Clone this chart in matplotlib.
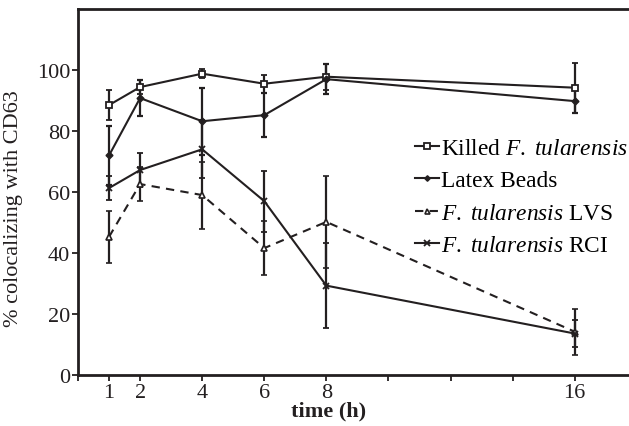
import matplotlib
matplotlib.use("Agg")
import matplotlib.pyplot as plt

plt.rcParams['font.family'] = ['Liberation Serif', 'DejaVu Serif']
plt.rcParams['mathtext.fontset'] = 'custom'
plt.rcParams['mathtext.rm'] = 'Liberation Serif'
plt.rcParams['mathtext.it'] = 'Liberation Serif:italic'

time = [1, 2, 4, 6, 8, 16]
killed = [88.5, 94.4, 98.8, 95.5, 97.8, 94.2]
killed_err = [5.0, 2.3, 1.5, 3.0, 4.2, 8.2]
latex = [72.0, 90.8, 83.2, 85.2, 97.0, 89.8]
latex_err = [9.6, 6.0, 11.0, 7.3, 5.0, 3.8]
lvs = [45.3, 62.6, 59.0, 41.6, 50.2, 14.2]
lvs_err = [8.6, 5.5, 11.0, 8.8, 15.0, 7.5]
rci = [61.3, 67.2, 74.0, 57.0, 29.3, 13.6]
rci_err = [3.8, 5.5, 9.5, 10.0, 14.0, 4.5]

labels = ['Killed $\\mathit{F.\\ tularensis}$', 'Latex Beads',
          '$\\mathit{F.\\ tularensis}$ LVS', '$\\mathit{F.\\ tularensis}$ RCI']
xticks = [0, 1, 2, 4, 6, 8, 10, 12, 14, 16]
xticklabels = ['', '1', '2', '4', '6', '8', '', '', '', '16']
yticks = [0, 20, 40, 60, 80, 100]

col = '#231f20'
fig = plt.figure(figsize=(6.29, 4.27), dpi=100)
ax = fig.add_axes([78/629, 51/427, 1 - 78/629, 366/427])

common = dict(color=col, ecolor=col, elinewidth=1.6, capsize=2.5, capthick=1.6, lw=1.5)
c1 = ax.errorbar(time, killed, yerr=killed_err, marker='s', ms=5, mfc='white', mec=col, mew=1.3,
                 **common)
c2 = ax.errorbar(time, latex, yerr=latex_err, marker='D', ms=3.5, mfc=col, mec=col,
                 **common)
c3 = ax.errorbar(time, lvs, yerr=lvs_err, marker='^', ms=4.5, mfc='white', mec=col, mew=1.2,
                 ls=(0, (4, 3)), **common)
c4 = ax.errorbar(time, rci, yerr=rci_err, marker='x', ms=5, mec=col, mew=1.3,
                 **common)

ax.set_xlim(0, 17.75)
ax.set_ylim(0, 120)
ax.set_xticks(xticks)
ax.set_xticklabels(xticklabels)
ax.set_yticks(yticks)
ax.tick_params(axis='both', direction='out', length=4, width=1.3, colors=col,
               labelsize=16, pad=1.5)
for s in ['left', 'bottom', 'top']:
    ax.spines[s].set_linewidth(2)
    ax.spines[s].set_color(col)
ax.spines['right'].set_visible(False)

ax.set_xlabel('time (h)', fontsize=16, fontweight='bold', color=col)
ax.xaxis.set_label_coords(0.454, -0.07)
ax.set_ylabel('% colocalizing with CD63', fontsize=16, color=col)
ax.yaxis.set_label_coords(-0.1, 0.456)

handles = [c[0] for c in (c1, c2, c3, c4)]
leg = ax.legend(handles, labels, loc='upper left', bbox_to_anchor=(0.612, 0.648),
                frameon=False, fontsize=16.8,
                handlelength=1.0, handletextpad=0.1, labelspacing=0.47, borderpad=0,
                borderaxespad=0, markerscale=0.8)

fig.savefig('out.png', dpi=100)
